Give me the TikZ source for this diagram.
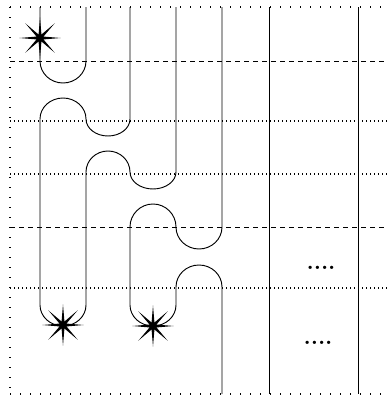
\documentclass[tikz,border=0pt]{standalone}
\usetikzlibrary{shapes.geometric}

\tikzset{
    strand/.style={line width=0.7pt},
    gridrow/.style={line width=0.85pt, dash pattern=on 0.85pt off 2.15pt},
    cutrow/.style={line width=0.75pt, dash pattern=on 3.75pt off 3pt},
    frameline/.style={line width=0.9pt, dash pattern=on 0.9pt off 6.6pt},
    twist/.style={star, star points=8, star point ratio=5.5, fill=black, inner sep=0pt, minimum size=31pt}
}

\begin{document}
\begin{tikzpicture}[x=0.75pt, y=0.75pt]
        \useasboundingbox (0,0) rectangle (387,-396);
        % frame and rows
        \draw[frameline] (10,-7) -- (387,-7);
        \draw[frameline] (10,-394) -- (387,-394);
        \draw[frameline] (10,-7) -- (10,-394);
        \foreach \y in {61,227} {
            \draw[cutrow] (10,-\y) -- (387,-\y);
        }
        \foreach \y in {121,174,288} {
            \draw[gridrow] (10,-\y) -- (387,-\y);
        }
        % strands
        \draw[strand] (86,-7) -- (86,-61) arc[start angle=0, end angle=-180, x radius=23, y radius=22] -- (40,-7);
        \draw[strand] (130,-7) -- (130,-119)
            arc[start angle=0, end angle=-180, x radius=22, y radius=17]
            arc[start angle=0, end angle=180, x radius=23, y radius=21] -- (40,-305)
            arc[start angle=180, end angle=360, x radius=23, y radius=21] -- (86,-172)
            arc[start angle=180, end angle=0, x radius=22, y radius=21]
            arc[start angle=180, end angle=360, x radius=23, y radius=17] -- (176,-7);
        \draw[strand] (222,-7) -- (222,-227)
            arc[start angle=0, end angle=-180, x radius=23, y radius=22]
            arc[start angle=0, end angle=180, x radius=23, y radius=23] -- (130,-305)
            arc[start angle=180, end angle=360, x radius=23, y radius=21] -- (176,-287)
            arc[start angle=180, end angle=0, x radius=23, y radius=22] -- (222,-394);
        \foreach \x in {269,358} {
            \draw[strand] (\x,-7) -- (\x,-394);
        }
        % twists
        \node[twist] (tw1) at (40,-38) {};
        \node[twist] (tw2) at (63,-325) {};
        \node[twist] (tw3) at (153,-326) {};
        \node (moreup) at (321,-268) {\LARGE\bfseries ....};
        \node (moredown) at (318,-343) {\LARGE\bfseries ....};
    \end{tikzpicture}
\end{document}
